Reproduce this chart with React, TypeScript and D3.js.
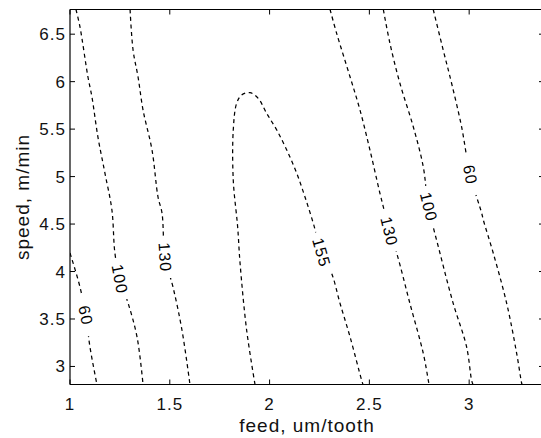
import React from "react";
import * as d3 from "d3";

type Pt = [number, number];

// Axis ticks
const xTicks = [1, 1.5, 2, 2.5, 3];
const yTicks = [3, 3.5, 4, 4.5, 5, 5.5, 6, 6.5];

// Contour lines: [feed (um/tooth), speed (m/min)]
const c60Left: Pt[] = [[1.0, 4.195], [1.05, 3.837], [1.08, 3.521], [1.1, 3.205], [1.135, 2.81]];
const c100Left: Pt[] = [[1.03, 6.76], [1.05, 6.576], [1.09, 6.049], [1.11, 5.838], [1.14, 5.416], [1.175, 5.037], [1.21, 4.648], [1.225, 4.195], [1.25, 3.911], [1.291, 3.668], [1.336, 3.31], [1.366, 2.81]];
const c130Left: Pt[] = [[1.301, 6.76], [1.316, 6.333], [1.341, 6.049], [1.366, 5.701], [1.411, 5.279], [1.441, 4.785], [1.461, 4.616], [1.476, 4.15], [1.516, 3.837], [1.561, 3.384], [1.601, 2.81]];
const c155: Pt[] = [[1.927, 2.81], [1.885, 3.384], [1.852, 4.09], [1.84, 4.47], [1.818, 4.964], [1.818, 5.49], [1.835, 5.772], [1.86, 5.859], [1.902, 5.884], [1.943, 5.824], [1.985, 5.667], [2.036, 5.49], [2.086, 5.28], [2.136, 5.035], [2.177, 4.788], [2.219, 4.508], [2.26, 4.2], [2.311, 3.981], [2.353, 3.665], [2.403, 3.313], [2.461, 2.857], [2.468, 2.81]];
const c130Right: Pt[] = [[2.303, 6.76], [2.336, 6.509], [2.403, 6.052], [2.453, 5.701], [2.503, 5.279], [2.553, 4.824], [2.578, 4.613], [2.6, 4.42], [2.637, 4.192], [2.703, 3.665], [2.77, 3.139], [2.795, 2.857], [2.799, 2.81]];
const c100Right: Pt[] = [[2.57, 6.76], [2.603, 6.404], [2.653, 5.983], [2.72, 5.525], [2.77, 5.104], [2.795, 4.7], [2.854, 4.192], [2.92, 3.665], [2.987, 3.208], [3.012, 2.857], [3.019, 2.81]];
const c60Right: Pt[] = [[2.82, 6.76], [2.87, 6.333], [2.912, 5.983], [2.962, 5.525], [3.005, 5.02], [3.063, 4.613], [3.071, 4.543], [3.121, 4.192], [3.188, 3.665], [3.238, 3.139], [3.263, 2.823], [3.265, 2.81]];

const contourLines: Pt[][] = [c60Left, c100Left, c130Left, c155, c130Right, c100Right, c60Right];
const contourLevels = [60, 100, 130, 155, 130, 100, 60];
const labelSpots: Pt[] = [[1.085, 3.54], [1.25, 3.92], [1.476, 4.15], [2.26, 4.2], [2.595, 4.42], [2.795, 4.68], [3.005, 5.02]];

const W = 541;
const H = 438;
const left = 70;
const top = 9.5;
const bottom = 384.5;
const right = 544;

const FONT = "'Liberation Sans', Arial, Helvetica, sans-serif";

export default function App() {
  const x = d3.scaleLinear().domain([1, 3.375]).range([left, right]);
  const y = d3.scaleLinear().domain([2.81, 6.76]).range([bottom, top]);
  const line = d3
    .line<Pt>()
    .x((d) => x(d[0]))
    .y((d) => y(d[1]))
    .curve(d3.curveCatmullRom.alpha(0.5));

  const labels = contourLines.map((pts, i) => {
    const px = pts.map((p) => [x(p[0]), y(p[1])] as [number, number]);
    const tx = x(labelSpots[i][0]);
    const ty = y(labelSpots[i][1]);
    let best = { d: Infinity, cx: tx, cy: ty, ang: 0 };
    for (let k = 0; k < px.length - 1; k++) {
      const [ax, ay] = px[k];
      const [bx, by] = px[k + 1];
      const dx = bx - ax;
      const dy = by - ay;
      const len2 = dx * dx + dy * dy;
      let t = ((tx - ax) * dx + (ty - ay) * dy) / len2;
      t = Math.max(0, Math.min(1, t));
      const cx = ax + t * dx;
      const cy = ay + t * dy;
      const dd = (cx - tx) ** 2 + (cy - ty) ** 2;
      if (dd < best.d) {
        let ang = (Math.atan2(dy, dx) * 180) / Math.PI;
        if (ang > 90) ang -= 180;
        if (ang < -90) ang += 180;
        best = { d: dd, cx, cy, ang };
      }
    }
    return { ...best, text: String(contourLevels[i]) };
  });

  const tickLen = 5;

  return (
    <svg
      width={W}
      height={H}
      style={{ position: "absolute", left: 0, top: 0, display: "block", background: "#fff" }}
    >
      <defs>
        <clipPath id="plotclip">
          <rect x={left} y={top} width={right - left} height={bottom - top} />
        </clipPath>
      </defs>
      <rect x={0} y={0} width={W} height={H} fill="#fff" />
      <g clipPath="url(#plotclip)">
        {contourLines.map((pts, i) => (
          <path
            key={i}
            d={line(pts) || ""}
            fill="none"
            stroke="#000"
            strokeWidth={1.25}
            strokeDasharray="4,3.5"
          />
        ))}
        {labels.map((l, i) => (
          <g key={i} transform={`translate(${l.cx},${l.cy}) rotate(${l.ang})`}>
            <rect x={-21} y={-8} width={42} height={16} fill="#fff" />
            <text
              x={0}
              y={0}
              dy="0.35em"
              textAnchor="middle"
              fontFamily={FONT}
              fontSize={16}
              letterSpacing={1}
              fill="#000"
            >
              {l.text}
            </text>
          </g>
        ))}
      </g>
      {/* axes box */}
      <line x1={left} y1={top} x2={right} y2={top} stroke="#000" strokeWidth={1.2} />
      <line x1={left} y1={bottom} x2={right} y2={bottom} stroke="#000" strokeWidth={1.2} />
      <line x1={left} y1={top} x2={left} y2={bottom} stroke="#000" strokeWidth={1.2} />
      <line x1={right} y1={top} x2={right} y2={bottom} stroke="#000" strokeWidth={1.2} />
      {xTicks.map((t) => (
        <g key={"x" + t}>
          <line x1={x(t)} x2={x(t)} y1={bottom} y2={bottom - tickLen} stroke="#000" />
          <line x1={x(t)} x2={x(t)} y1={top} y2={top + tickLen} stroke="#000" />
          <text
            x={x(t)}
            y={410}
            textAnchor="middle"
            fontFamily={FONT}
            fontSize={17}
            letterSpacing={1}
            fill="#111"
          >
            {String(t)}
          </text>
        </g>
      ))}
      {yTicks.map((t) => (
        <g key={"y" + t}>
          <line x1={left} x2={left + tickLen} y1={y(t)} y2={y(t)} stroke="#000" />
          <line x1={right} x2={right - tickLen} y1={y(t)} y2={y(t)} stroke="#000" />
          <text
            x={66}
            y={y(t) + 6}
            textAnchor="end"
            fontFamily={FONT}
            fontSize={17}
            letterSpacing={1}
            fill="#111"
          >
            {String(t)}
          </text>
        </g>
      ))}
      <text
        x={307}
        y={432}
        textAnchor="middle"
        fontFamily={FONT}
        fontSize={19}
        letterSpacing={1}
        fill="#111"
      >
        feed, um/tooth
      </text>
      <text
        transform={`translate(29,${(top + bottom) / 2}) rotate(-90)`}
        textAnchor="middle"
        fontFamily={FONT}
        fontSize={19}
        letterSpacing={1}
        fill="#111"
      >
        speed, m/min
      </text>
    </svg>
  );
}
